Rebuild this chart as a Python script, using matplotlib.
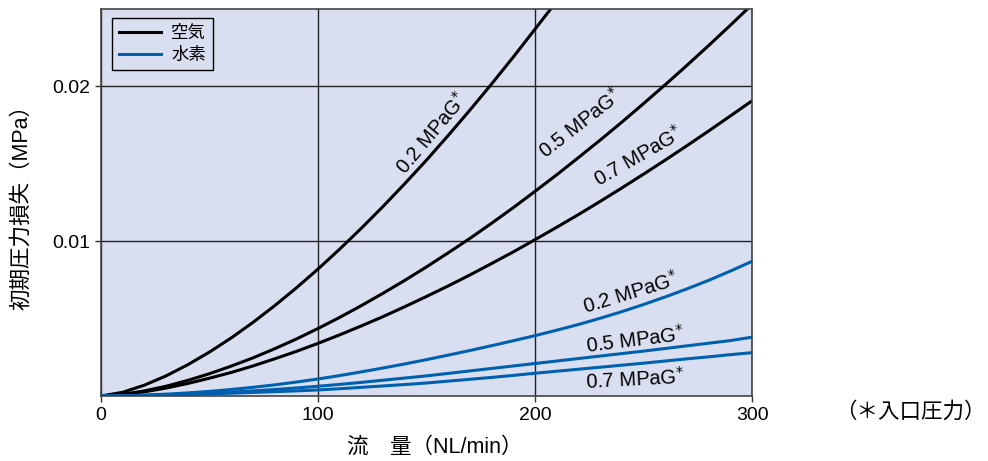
import matplotlib
matplotlib.use("Agg")
import matplotlib.pyplot as plt

plt.rcParams['font.family'] = ['Liberation Sans', 'Noto Sans CJK JP', 'DejaVu Sans']

# flow (NL/min)
flow = list(range(0, 301, 10))
flow_air02 = list(range(0, 211, 10))

# pressure loss (MPa)
air_02 = [0, 0.00024, 0.0007, 0.0013, 0.00202, 0.00284, 0.00375, 0.00475, 0.00583, 0.00698, 0.0082,
          0.00949, 0.01084, 0.01225, 0.01372, 0.01524, 0.01683, 0.01847, 0.02016, 0.0219, 0.0237, 0.0255]
air_05 = [0, 0.00011, 0.00033, 0.00063, 0.00101, 0.00144, 0.00193, 0.00246, 0.00305, 0.00368, 0.00436,
          0.00508, 0.00584, 0.00664, 0.00747, 0.00834, 0.00925, 0.01018, 0.01116, 0.01217, 0.01322,
          0.01429, 0.0154, 0.01653, 0.01769, 0.01889, 0.02011, 0.02136, 0.02264, 0.02395, 0.02529]
air_07 = [0, 0.00009, 0.00027, 0.00051, 0.00081, 0.00115, 0.00152, 0.00194, 0.0024, 0.00288, 0.0034,
          0.00395, 0.00453, 0.00513, 0.00577, 0.00643, 0.00711, 0.00782, 0.00856, 0.00931, 0.0101,
          0.0109, 0.01172, 0.01257, 0.01344, 0.01433, 0.01524, 0.01617, 0.01712, 0.01809, 0.01907]
h2_02 = [0, 0.00002, 0.00006, 0.00012, 0.0002, 0.0003, 0.00042, 0.00056, 0.00072, 0.0009, 0.0011,
         0.00132, 0.00156, 0.00181, 0.00207, 0.00235, 0.00264, 0.00294, 0.00325, 0.00357, 0.0039,
         0.00425, 0.00462, 0.00502, 0.00545, 0.00591, 0.0064, 0.00692, 0.00747, 0.00807, 0.0087]
h2_05 = [0, 0.00001, 0.00004, 0.00008, 0.00013, 0.00019, 0.00025, 0.00033, 0.00042, 0.00052, 0.00063,
         0.00075, 0.00088, 0.00102, 0.00116, 0.0013, 0.00146, 0.00162, 0.00178, 0.00194, 0.0021,
         0.00226, 0.00242, 0.00258, 0.00274, 0.0029, 0.00307, 0.00324, 0.00341, 0.00358, 0.0038]
h2_07 = [0, 0.00001, 0.00003, 0.00006, 0.0001, 0.00014, 0.00018, 0.00023, 0.00028, 0.00033, 0.00039,
         0.00047, 0.00056, 0.00065, 0.00074, 0.00084, 0.00096, 0.00108, 0.0012, 0.00133, 0.00147,
         0.0016, 0.00173, 0.00186, 0.00199, 0.00212, 0.00226, 0.0024, 0.00253, 0.00267, 0.0028]

BLACK = '#000000'
BLUE = '#0060b0'
BG = '#d9dff0'

fig = plt.figure(figsize=(9.88, 4.61), dpi=100)
ax = fig.add_axes([0.1022, 0.141, 0.659, 0.8395])
ax.set_facecolor(BG)

ax.plot(flow_air02, air_02, color=BLACK, lw=2.2, label='空気')
ax.plot(flow, air_05, color=BLACK, lw=2.2)
ax.plot(flow, air_07, color=BLACK, lw=2.2)
ax.plot(flow, h2_02, color=BLUE, lw=2.2, label='水素')
ax.plot(flow, h2_05, color=BLUE, lw=2.2)
ax.plot(flow, h2_07, color=BLUE, lw=2.2)

ax.set_xlim(0, 300)
ax.set_ylim(0, 0.025)
ax.set_xticks([0, 100, 200, 300])
ax.set_yticks([0.01, 0.02])
ax.set_yticklabels(['0.01', '0.02'])
ax.grid(True, color='#222222', lw=1)
ax.tick_params(labelsize=14, length=4, width=1, color='#333333', pad=4)
for s in ax.spines.values():
    s.set_color('#444444')
    s.set_linewidth(1.2)

# curve labels
lab = dict(fontsize=14.5, ha='center', va='center', rotation_mode='anchor')
ax.text(152.5, 0.0170, '0.2 MPaG$^{*}$', rotation=50, **lab)
ax.text(221, 0.0176, '0.5 MPaG$^{*}$', rotation=38, **lab)
ax.text(247.5, 0.0155, '0.7 MPaG$^{*}$', rotation=30, **lab)
ax.text(244, 0.0067, '0.2 MPaG$^{*}$', rotation=17, **lab)
ax.text(246, 0.0036, '0.5 MPaG$^{*}$', rotation=7, **lab)
ax.text(246, 0.0011, '0.7 MPaG$^{*}$', rotation=3, **lab)

leg = ax.legend(loc='upper left', bbox_to_anchor=(0.017, 0.977), borderaxespad=0,
                fontsize=12.5, frameon=True, fancybox=False, edgecolor='#000000',
                facecolor=BG, framealpha=1, handlelength=2.4, handletextpad=0.6,
                borderpad=0.4, labelspacing=0.35)
leg.get_frame().set_linewidth(1)

ax.set_ylabel('初期圧力損失（MPa）', fontsize=15.5)
ax.yaxis.set_label_coords(-0.106, 0.5)
fig.text(0.440, 0.030, '流　量（NL/min）', fontsize=15.5, ha='center', va='center')
fig.text(0.998, 0.106, '（＊入口圧力）', fontsize=15.5, ha='right', va='center')

fig.savefig('out.png', dpi=100)
